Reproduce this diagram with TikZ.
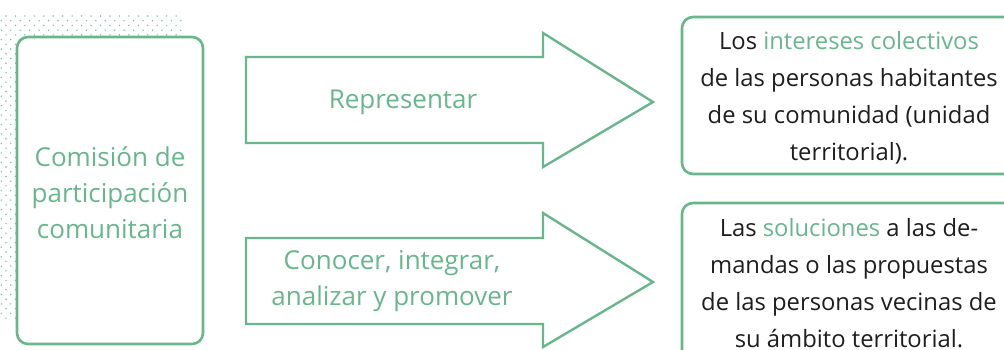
\documentclass[tikz,border=0pt]{standalone}
\usepackage{fontspec}
\setmainfont{Open Sans}
\definecolor{gr}{RGB}{104,183,140}
\definecolor{dotc}{RGB}{120,190,152}
\definecolor{txt}{RGB}{30,30,30}
\begin{document}
\begin{tikzpicture}[x=1pt,y=-1pt,
  frame/.style={draw=gr,line width=2.6pt,rounded corners=11pt,fill=white},
  arr/.style={draw=gr,line width=2.4pt,fill=white,line join=miter},
  gtext/.style={text=gr,font=\fontsize{26}{36}\selectfont,align=center,inner sep=0pt},
  btext/.style={text=txt,font=\fontsize{23.8}{37}\selectfont,align=center,inner sep=0pt}]
\useasboundingbox (0,0) rectangle (1004,349);
\clip (0,0) rectangle (1004,349);
% dot pattern
\foreach \i in {0,...,64}{
  \pgfmathsetmacro{\yy}{16+\i*4.72}
  \pgfmathsetmacro{\off}{mod(\i,2)==0 ? 6 : 1.3}
  \foreach \j in {0,...,19}{
    \pgfmathsetmacro{\xx}{\off+\j*9.45}
    \ifdim \xx pt<185pt
      \fill[dotc] (\xx,\yy) circle (0.8);
    \fi
  }
}
% left box
\node[frame,minimum width=186pt,minimum height=307pt] (com) at (110,190.5) {};
\node[gtext] (comt) at (110,193) {Comisión de\\participación\\comunitaria};
% arrows
\draw[arr] (246,57) -- (543,57) -- (543,33) -- (653,102) -- (543,167) -- (543,143) -- (246,143) -- cycle;
\node[gtext] (rep) at (403,102) {Representar};
\draw[arr] (246,238) -- (543,238) -- (543,213) -- (653,282) -- (543,347) -- (543,324) -- (246,324) -- cycle;
\node[gtext] (con) at (392,281.5) {Conocer, integrar,\\analizar y promover};
% right boxes
\node[frame,minimum width=340pt,minimum height=157pt] (b1) at (852,95.5) {};
\node[btext] (t1) at (849,98) {Los \textcolor{gr}{intereses colectivos}\\de las personas habitantes\\de su comunidad (unidad\\territorial).};
\node[frame,minimum width=340pt,minimum height=170pt] (b2) at (852,288) {};
\node[btext] (t2) at (849,283) {Las \textcolor{gr}{soluciones} a las de-\\mandas o las propuestas\\de las personas vecinas de\\su ámbito territorial.};
\end{tikzpicture}
\end{document}
